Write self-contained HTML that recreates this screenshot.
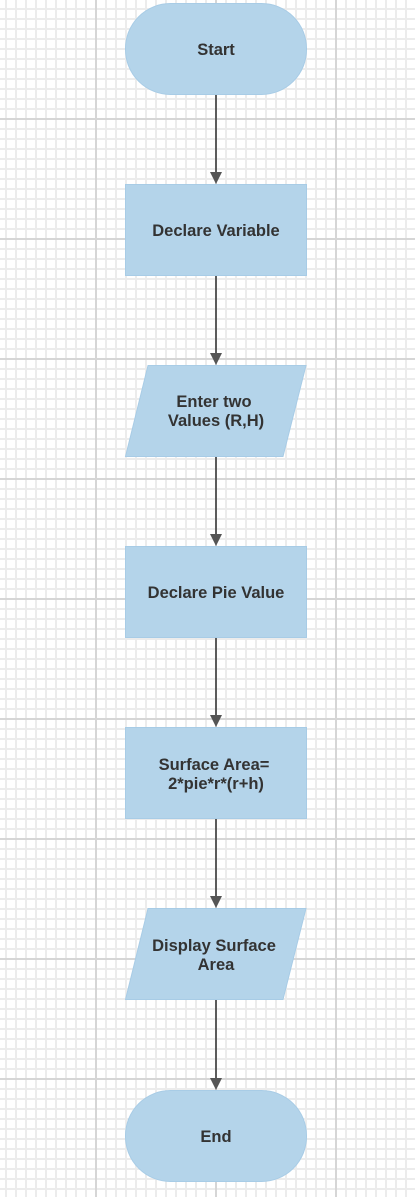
<!DOCTYPE html>
<html><head><style>
html,body{margin:0;padding:0;}
body{width:415px;height:1197px;position:relative;overflow:hidden;background:#fff;
background-image:
linear-gradient(to right,#d6d6d6 2px,transparent 2px),
linear-gradient(to bottom,#d6d6d6 2px,transparent 2px),
linear-gradient(to right,#ececec 2px,transparent 2px),
linear-gradient(to bottom,#ececec 2px,transparent 2px);
background-size:120px 120px,120px 120px,10px 10px,10px 10px;
background-position:95px 0,0 598px,5px 0,0 8px;}
svg{position:absolute;left:0;top:0;}
text{font-family:"Liberation Sans",sans-serif;font-weight:bold;font-size:16.5px;fill:#333;text-anchor:middle;}
</style></head><body>
<svg width="415" height="1197">
<g stroke="#5c5c5c" stroke-width="2">
<line x1="216" y1="94" x2="216" y2="172"/>
<line x1="216" y1="275" x2="216" y2="353"/>
<line x1="216" y1="456" x2="216" y2="534"/>
<line x1="216" y1="637" x2="216" y2="715"/>
<line x1="216" y1="818" x2="216" y2="896"/>
<line x1="216" y1="999" x2="216" y2="1078"/>
</g>
<g fill="#555">
<path d="M210,172 L222,172 L216,184 Z"/>
<path d="M210,353 L222,353 L216,365 Z"/>
<path d="M210,534 L222,534 L216,546 Z"/>
<path d="M210,715 L222,715 L216,727 Z"/>
<path d="M210,896 L222,896 L216,908 Z"/>
<path d="M210,1078 L222,1078 L216,1090 Z"/>
</g>
<g fill="#b4d4ea" stroke="#a8cce6" stroke-width="1">
<rect x="125.5" y="3.5" width="181" height="91" rx="45" ry="45"/>
<rect x="125.5" y="184.5" width="181" height="91"/>
<path d="M148,365.5 L306,365.5 L283,456.5 L125.5,456.5 Z"/>
<rect x="125.5" y="546.5" width="181" height="91"/>
<rect x="125.5" y="727.5" width="181" height="91"/>
<path d="M148,908.5 L306,908.5 L283,999.5 L125.5,999.5 Z"/>
<rect x="125.5" y="1090.5" width="181" height="91" rx="45" ry="45"/>
</g>
<text x="216" y="55">Start</text>
<text x="216" y="236">Declare Variable</text>
<text x="214" y="407">Enter two</text>
<text x="216" y="426">Values (R,H)</text>
<text x="216" y="598">Declare Pie Value</text>
<text x="214" y="770">Surface Area=</text>
<text x="216" y="789">2*pie*r*(r+h)</text>
<text x="214" y="951">Display Surface</text>
<text x="216" y="970">Area</text>
<text x="216" y="1142">End</text>
</svg>
</body></html>
